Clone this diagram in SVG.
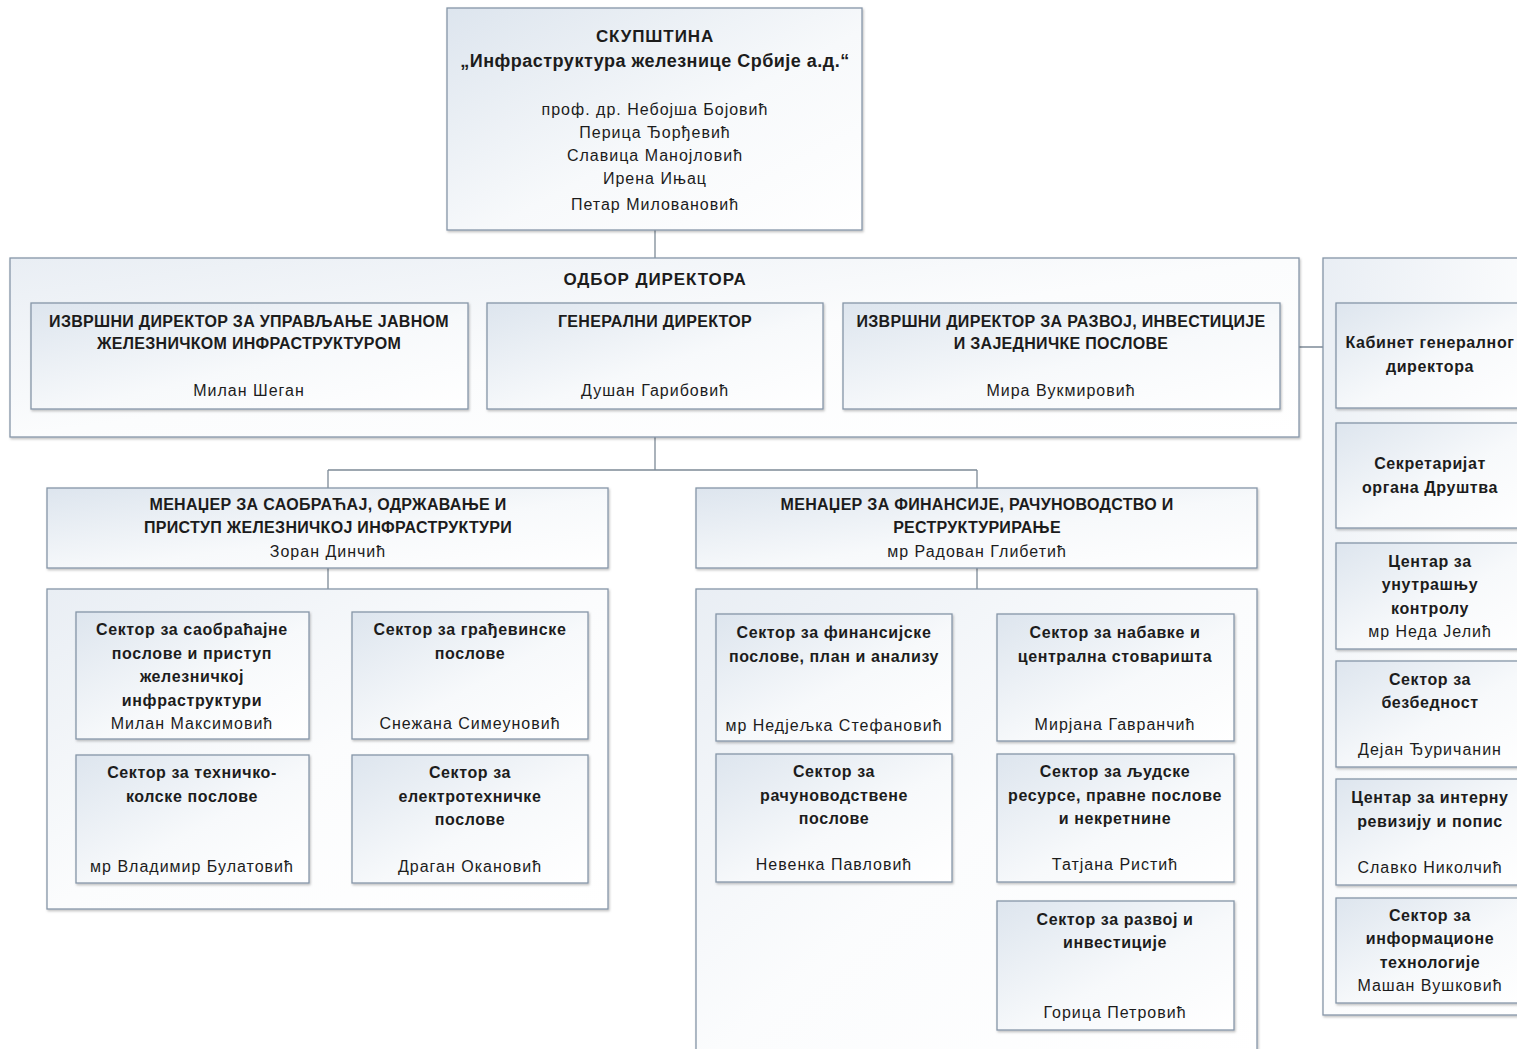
<svg xmlns="http://www.w3.org/2000/svg" width="1517" height="1049" viewBox="0 0 1517 1049">
<defs>
<linearGradient id="g" x1="0" y1="0" x2="1" y2="1">
<stop offset="0" stop-color="#dde5ee"/>
<stop offset="0.55" stop-color="#f7f9fb"/>
<stop offset="1" stop-color="#ffffff"/>
</linearGradient>
<linearGradient id="gc" x1="0" y1="0" x2="1" y2="1">
<stop offset="0" stop-color="#e9eef4"/>
<stop offset="0.5" stop-color="#fbfcfd"/>
<stop offset="1" stop-color="#ffffff"/>
</linearGradient>
<filter id="sh" x="-5%" y="-5%" width="110%" height="115%">
<feDropShadow dx="1" dy="1.5" stdDeviation="1" flood-color="#000" flood-opacity="0.25"/>
</filter>
<style>
.box{fill:url(#g);stroke:#8696a8;stroke-width:1.3;filter:url(#sh)}
.cont{fill:url(#gc);stroke:#8696a8;stroke-width:1.3;filter:url(#sh)}
.ln{stroke:#7d8a97;stroke-width:1.3;fill:none}
text{font-family:"Liberation Sans",Arial,sans-serif;fill:#1c1c1c;text-anchor:middle}
.t{font-weight:bold;font-size:16px;letter-spacing:0.6px}
.u{font-weight:bold;font-size:16px;letter-spacing:0.3px}
.n{font-size:16px;letter-spacing:1px}
.h{font-weight:bold;font-size:17px;letter-spacing:0.9px}
.q{font-weight:bold;font-size:18px;letter-spacing:0.5px}
</style>
</defs>
<rect width="1517" height="1049" fill="#ffffff"/>

<g id="connectors">
<path class="ln" d="M655 230V258"/>
<path class="ln" d="M655 437V470M328 470H977M328 470V488M977 470V488"/>
<path class="ln" d="M328 568V589M977 568V589"/>
<path class="ln" d="M1299 347H1336"/>
<path class="ln" d="M1323 478H1336M1323 622H1336M1323 718H1336M1323 846H1336M1323 955H1336"/>
<path class="ln" d="M47 683H76M47 821H76M588 683H608M588 827H608"/>
<path class="ln" d="M696 685H716M696 820H716M1234 672H1257M1234 829H1257M1234 975H1257"/>
</g>

<g id="skupstina">
<rect class="box" x="447" y="8" width="415" height="222"/>
<text class="h" x="655" y="42">СКУПШТИНА</text>
<text class="q" x="655" y="67">„Инфраструктура железнице Србије а.д.“</text>
<text class="n" x="655" y="115">проф. др. Небојша Бојовић</text>
<text class="n" x="655" y="138">Перица Ђорђевић</text>
<text class="n" x="655" y="161">Славица Манојловић</text>
<text class="n" x="655" y="184">Ирена Ињац</text>
<text class="n" x="655" y="210">Петар Миловановић</text>
</g>

<g id="odbor">
<rect class="cont" x="10" y="258" width="1289" height="179"/>
<text class="h" x="655" y="285">ОДБОР ДИРЕКТОРА</text>
</g>

<g id="izvrsni1">
<rect class="box" x="31" y="303" width="437" height="106"/>
<text class="u" x="249" y="327">ИЗВРШНИ ДИРЕКТОР ЗА УПРАВЉАЊЕ ЈАВНОМ</text>
<text class="u" x="249" y="349">ЖЕЛЕЗНИЧКОМ ИНФРАСТРУКТУРОМ</text>
<text class="n" x="249" y="396">Милан Шеган</text>
</g>

<g id="generalni">
<rect class="box" x="487" y="303" width="336" height="106"/>
<text class="u" x="655" y="327">ГЕНЕРАЛНИ ДИРЕКТОР</text>
<text class="n" x="655" y="396">Душан Гарибовић</text>
</g>

<g id="izvrsni2">
<rect class="box" x="843" y="303" width="437" height="106"/>
<text class="u" x="1061" y="327">ИЗВРШНИ ДИРЕКТОР ЗА РАЗВОЈ, ИНВЕСТИЦИЈЕ</text>
<text class="u" x="1061" y="349">И ЗАЈЕДНИЧКЕ ПОСЛОВЕ</text>
<text class="n" x="1061" y="396">Мира Вукмировић</text>
</g>

<g id="menadzer1">
<rect class="box" x="47" y="488" width="561" height="80"/>
<text class="u" x="328" y="510">МЕНАЏЕР ЗА САОБРАЋАЈ, ОДРЖАВАЊЕ И</text>
<text class="u" x="328" y="533">ПРИСТУП ЖЕЛЕЗНИЧКОЈ ИНФРАСТРУКТУРИ</text>
<text class="n" x="328" y="557">Зоран Динчић</text>
</g>

<g id="menadzer2">
<rect class="box" x="696" y="488" width="561" height="80"/>
<text class="u" x="977" y="510">МЕНАЏЕР ЗА ФИНАНСИЈЕ, РАЧУНОВОДСТВО И</text>
<text class="u" x="977" y="533">РЕСТРУКТУРИРАЊЕ</text>
<text class="n" x="977" y="557">мр Радован Глибетић</text>
</g>

<g id="grupa1">
<rect class="cont" x="47" y="589" width="561" height="320"/>
</g>
<g id="grupa2">
<rect class="cont" x="696" y="589" width="561" height="480"/>
</g>
<g id="grupa3">
<rect class="cont" x="1323" y="258" width="220" height="757"/>
</g>

<g id="s-saobracaj">
<rect class="box" x="76" y="612" width="233" height="127"/>
<text class="t" x="192" y="635">Сектор за саобраћајне</text>
<text class="t" x="192" y="659">послове и приступ</text>
<text class="t" x="192" y="682">железничкој</text>
<text class="t" x="192" y="706">инфраструктури</text>
<text class="n" x="192" y="729">Милан Максимовић</text>
</g>
<g id="s-gradjevinske">
<rect class="box" x="352" y="612" width="236" height="127"/>
<text class="t" x="470" y="635">Сектор за грађевинске</text>
<text class="t" x="470" y="659">послове</text>
<text class="n" x="470" y="729">Снежана Симеуновић</text>
</g>
<g id="s-tehnicko">
<rect class="box" x="76" y="755" width="233" height="128"/>
<text class="t" x="192" y="778">Сектор за техничко-</text>
<text class="t" x="192" y="802">колске послове</text>
<text class="n" x="192" y="872">мр Владимир Булатовић</text>
</g>
<g id="s-elektro">
<rect class="box" x="352" y="755" width="236" height="128"/>
<text class="t" x="470" y="778">Сектор за</text>
<text class="t" x="470" y="802">електротехничке</text>
<text class="t" x="470" y="825">послове</text>
<text class="n" x="470" y="872">Драган Окановић</text>
</g>

<g id="s-finansije">
<rect class="box" x="716" y="614" width="236" height="127"/>
<text class="t" x="834" y="638">Сектор за финансијске</text>
<text class="t" x="834" y="662">послове, план и анализу</text>
<text class="n" x="834" y="731">мр Недјељка Стефановић</text>
</g>
<g id="s-racunovodstvo">
<rect class="box" x="716" y="754" width="236" height="128"/>
<text class="t" x="834" y="777">Сектор за</text>
<text class="t" x="834" y="801">рачуноводствене</text>
<text class="t" x="834" y="824">послове</text>
<text class="n" x="834" y="870">Невенка Павловић</text>
</g>
<g id="s-nabavke">
<rect class="box" x="997" y="614" width="237" height="127"/>
<text class="t" x="1115" y="638">Сектор за набавке и</text>
<text class="t" x="1115" y="662">централна стоваришта</text>
<text class="n" x="1115" y="730">Мирјана Гавранчић</text>
</g>
<g id="s-ljudski">
<rect class="box" x="997" y="754" width="237" height="128"/>
<text class="t" x="1115" y="777">Сектор за људске</text>
<text class="t" x="1115" y="801">ресурсе, правне послове</text>
<text class="t" x="1115" y="824">и некретнине</text>
<text class="n" x="1115" y="870">Татјана Ристић</text>
</g>
<g id="s-razvoj">
<rect class="box" x="997" y="901" width="237" height="129"/>
<text class="t" x="1115" y="925">Сектор за развој и</text>
<text class="t" x="1115" y="948">инвестиције</text>
<text class="n" x="1115" y="1018">Горица Петровић</text>
</g>

<g id="kabinet">
<rect class="box" x="1336" y="303" width="190" height="105"/>
<text class="t" x="1430" y="348">Кабинет генералног</text>
<text class="t" x="1430" y="372">директора</text>
</g>
<g id="sekretarijat">
<rect class="box" x="1336" y="423" width="190" height="105"/>
<text class="t" x="1430" y="469">Секретаријат</text>
<text class="t" x="1430" y="493">органа Друштва</text>
</g>
<g id="unutrasnja">
<rect class="box" x="1336" y="543" width="190" height="106"/>
<text class="t" x="1430" y="567">Центар за</text>
<text class="t" x="1430" y="590">унутрашњу</text>
<text class="t" x="1430" y="614">контролу</text>
<text class="n" x="1430" y="637">мр Неда Јелић</text>
</g>
<g id="bezbednost">
<rect class="box" x="1336" y="661" width="190" height="106"/>
<text class="t" x="1430" y="685">Сектор за</text>
<text class="t" x="1430" y="708">безбедност</text>
<text class="n" x="1430" y="755">Дејан Ђуричанин</text>
</g>
<g id="revizija">
<rect class="box" x="1336" y="779" width="190" height="106"/>
<text class="t" x="1430" y="803">Центар за интерну</text>
<text class="t" x="1430" y="827">ревизију и попис</text>
<text class="n" x="1430" y="873">Славко Николчић</text>
</g>
<g id="it">
<rect class="box" x="1336" y="898" width="190" height="105"/>
<text class="t" x="1430" y="921">Сектор за</text>
<text class="t" x="1430" y="944">информационе</text>
<text class="t" x="1430" y="968">технологије</text>
<text class="n" x="1430" y="991">Машан Вушковић</text>
</g>
</svg>
